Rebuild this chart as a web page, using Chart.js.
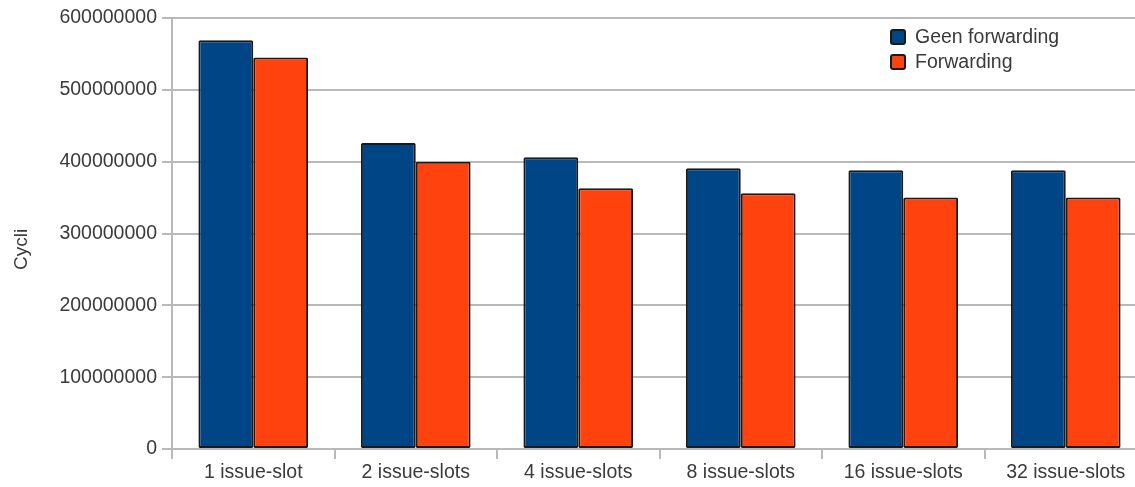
<!DOCTYPE html>
<html>
<head>
<meta charset="utf-8">
<script src="https://cdn.jsdelivr.net/npm/chart.js@4/dist/chart.umd.min.js"></script>
<style>
  html, body { margin: 0; padding: 0; background: #fff; overflow: hidden; }
  #wrap { width: 1150px; height: 487px; }
</style>
</head>
<body>
<div id="wrap"><canvas id="c" width="1150" height="487"></canvas></div>
<script>
// Cycle counts per issue-slot configuration
const categories = ['1 issue-slot', '2 issue-slots', '4 issue-slots', '8 issue-slots', '16 issue-slots', '32 issue-slots'];
const seriesNames = ['Geen forwarding', 'Forwarding'];
const geenForwarding = [569000000, 426000000, 406000000, 391000000, 388000000, 388000000];
const forwarding = [545000000, 400000000, 363000000, 356000000, 350000000, 350000000];
const yTickValues = [0, 100000000, 200000000, 300000000, 400000000, 500000000, 600000000];
const yTitle = 'Cycli';

const FONT = 'Liberation Sans, Arial, sans-serif';
const TEXT = '#3a3a3a';
const GRID = '#b9b9b9';
const colors = ['#004586', '#ff420e'];
const edge = '#1a1a1a';

// Legend drawn inside the plot area, top right
const insideLegend = {
  id: 'insideLegend',
  afterDraw(chart) {
    const ctx = chart.ctx;
    ctx.save();
    ctx.font = '19.5px ' + FONT;
    ctx.textBaseline = 'middle';
    ctx.textAlign = 'left';
    chart.data.datasets.forEach((ds, i) => {
      const x = 891, y = 30 + i * 25, s = 14;
      ctx.fillStyle = ds.backgroundColor;
      ctx.strokeStyle = edge;
      ctx.lineWidth = 2;
      ctx.beginPath();
      ctx.roundRect(x, y, s, s, 2);
      ctx.fill();
      ctx.stroke();
      ctx.fillStyle = TEXT;
      ctx.fillText(ds.label, x + 24, y + s / 2 + 1);
    });
    ctx.restore();
  }
};

new Chart(document.getElementById('c'), {
  type: 'bar',
  data: {
    labels: categories,
    datasets: [
      { label: seriesNames[0], data: geenForwarding, backgroundColor: colors[0] },
      { label: seriesNames[1], data: forwarding, backgroundColor: colors[1] }
    ]
  },
  options: {
    responsive: false,
    animation: false,
    layout: { padding: { left: 0, right: 3, top: 18, bottom: 0 } },
    datasets: {
      bar: {
        categoryPercentage: 0.675,
        barPercentage: 1.0,
        borderColor: edge,
        borderWidth: 2,
        borderRadius: 1.5,
        borderSkipped: false
      }
    },
    plugins: {
      legend: { display: false },
      tooltip: { enabled: false }
    },
    scales: {
      x: {
        offset: true,
        grid: {
          display: true,
          offset: true,
          drawOnChartArea: false,
          drawTicks: true,
          tickLength: 10,
          color: GRID,
          lineWidth: 2
        },
        border: { display: true, color: GRID, width: 2 },
        ticks: {
          color: TEXT,
          font: { family: FONT, size: 19.5 },
          padding: 2,
          maxRotation: 0,
          autoSkip: false
        },
        afterFit(scale) { scale.height = 38; }
      },
      y: {
        min: 0,
        max: 600000000,
        afterBuildTicks(scale) { scale.ticks = yTickValues.map(v => ({ value: v })); },
        grid: {
          color: GRID,
          lineWidth: 2,
          tickLength: 10
        },
        border: { display: true, color: GRID, width: 2 },
        ticks: {
          color: TEXT,
          font: { family: FONT, size: 19.5 },
          padding: 5,
          callback: v => String(v)
        },
        title: {
          display: true,
          text: yTitle + '\u00a0\u00a0\u00a0\u00a0\u00a0\u00a0',
          color: TEXT,
          font: { family: FONT, size: 19, weight: 'normal' },
          padding: { top: 10, bottom: 0 }
        },
        afterFit(scale) { scale.width = 172; }
      }
    }
  },
  plugins: [insideLegend]
});
</script>
</body>
</html>
